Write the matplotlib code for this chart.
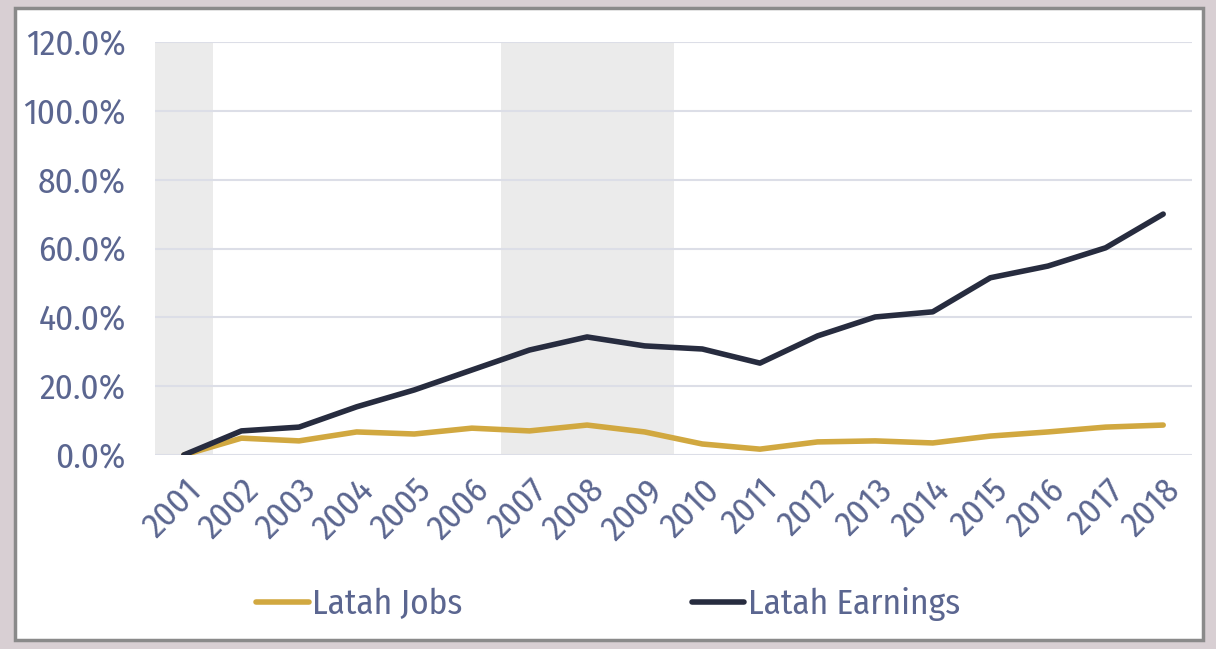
import matplotlib.pyplot as plt
from matplotlib.patches import Rectangle
from matplotlib import font_manager
from matplotlib.textpath import TextPath
from matplotlib.font_manager import FontProperties
import matplotlib.ticker as ticker

years = ['2001', '2002', '2003', '2004', '2005', '2006', '2007', '2008', '2009',
         '2010', '2011', '2012', '2013', '2014', '2015', '2016', '2017', '2018']
jobs = [0.0, 4.9, 4.1, 6.7, 6.1, 7.8, 7.0, 8.7, 6.7,
        3.2, 1.7, 3.8, 4.1, 3.5, 5.5, 6.7, 8.1, 8.7]
earnings = [0.0, 7.0, 8.1, 14.0, 18.9, 24.7, 30.5, 34.3, 31.7,
            30.8, 26.7, 34.6, 40.1, 41.6, 51.5, 54.9, 60.2, 70.0]
# recession bands, in category index units
recessions = [(-0.5, 0.5), (5.5, 8.5)]

JOBS_COLOR = '#d1a840'
EARN_COLOR = '#272c3f'
TEXT_COLOR = '#5b6690'
GRID_COLOR = '#dcdee7'
SHADE_COLOR = '#ebebeb'

names = {f.name for f in font_manager.fontManager.ttflist}
prefs = ['Tw Cen MT', 'Fira Sans Condensed', 'Roboto Condensed', 'PT Sans Narrow',
         'Open Sans Condensed', 'Encode Sans Condensed', 'Liberation Sans Narrow',
         'Ubuntu Condensed', 'Asap Condensed', 'Archivo Narrow']
family = next((f for f in prefs if f in names), 'DejaVu Sans')
plt.rcParams['font.family'] = [family, 'DejaVu Sans']

# pick a size so "Latah Earnings" is about 208 px wide, like the reference
w10 = TextPath((0, 0), 'Latah Earnings', size=10, prop=FontProperties(family=family)).get_extents().width
FS = 10 * 208 / (w10 * 100 / 72)

fig = plt.figure(figsize=(12.16, 6.49), dpi=100)
fig.patch.set_facecolor('#d8cfd3')
# white card with grey edge
fig.patches.append(Rectangle((15 / 1216, 1 - 640 / 649), (1203 - 15) / 1216, (640 - 8) / 649,
                             transform=fig.transFigure, facecolor='white',
                             edgecolor='#8a8a8a', lw=2.5, zorder=-5))

ax = fig.add_axes([155 / 1216, 1 - 455 / 649, (1192 - 155) / 1216, (455 - 42) / 649])
ax.set_facecolor('none')

x = list(range(len(years)))
for a, b in recessions:
    ax.axvspan(a, b, color=SHADE_COLOR, lw=0, zorder=0)

ax.plot(x, jobs, color=JOBS_COLOR, lw=4, solid_capstyle='round',
        solid_joinstyle='round', label='Latah Jobs', zorder=3)
ax.plot(x, earnings, color=EARN_COLOR, lw=4, solid_capstyle='round',
        solid_joinstyle='round', label='Latah Earnings', zorder=4)

ax.set_xlim(-0.5, len(years) - 0.5)
ax.set_ylim(0, 120)
ax.set_yticks(range(0, 121, 20))
ax.yaxis.set_major_formatter(ticker.FuncFormatter(lambda v, p: f'{v:.1f}%'))
ax.set_xticks(x)
ax.set_xticklabels(years, rotation=45, ha='right', rotation_mode='anchor')
ax.grid(axis='y', color=GRID_COLOR, lw=1.5, zorder=1)
ax.set_axisbelow(True)
for s in ax.spines.values():
    s.set_visible(False)
ax.tick_params(axis='both', length=0, labelsize=FS, labelcolor=TEXT_COLOR)
ax.tick_params(axis='y', pad=21)
ax.tick_params(axis='x', pad=13)

leg = ax.legend(loc='center', bbox_to_anchor=(608 / 1216, 1 - 604 / 649),
                bbox_transform=fig.transFigure, ncol=2, frameon=False,
                fontsize=FS, handlelength=1.5, handletextpad=0.1,
                columnspacing=6.5)
for t in leg.get_texts():
    t.set_color(TEXT_COLOR)

fig.savefig('out.png', dpi=100, facecolor=fig.get_facecolor())
